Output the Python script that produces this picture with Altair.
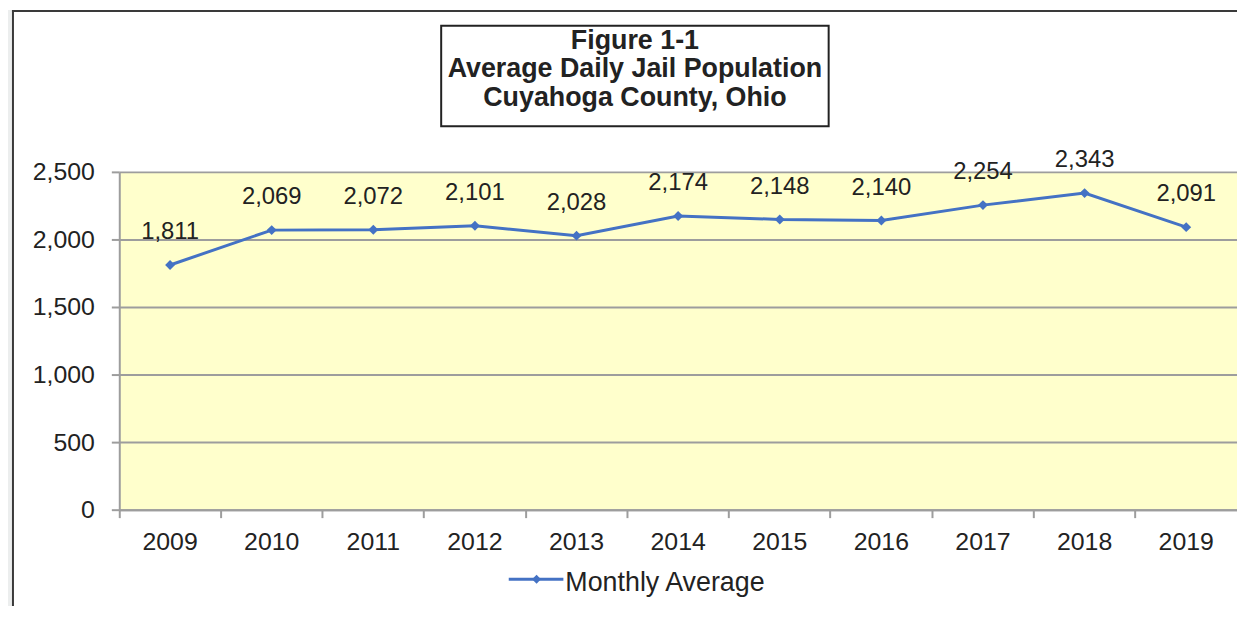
import altair as alt
import pandas as pd

# ---- data ----
years = ["2009", "2010", "2011", "2012", "2013", "2014", "2015", "2016", "2017", "2018", "2019"]
values = [1811, 2069, 2072, 2101, 2028, 2174, 2148, 2140, 2254, 2343, 2091]
y_ticks = [0, 500, 1000, 1500, 2000, 2500]
title_lines = ["Figure 1-1", "Average Daily Jail Population", "Cuyahoga County, Ohio"]
series_name = "Monthly Average"

# ---- style ----
FONT = "Liberation Sans"
BLUE = "#4472c4"
GRID = "#9d9d9d"
TEXT = "#222222"
PLOT_FILL = "#ffffcc"
OUTER = "#eceeee"
W, H = 1125, 340

df = pd.DataFrame({"year": years, "value": values})
dummy = pd.DataFrame({"d": [0]})

x = alt.X(
    "year:N", title=None, sort=years,
    scale=alt.Scale(type="band", paddingInner=0, paddingOuter=0),
    axis=alt.Axis(labelAngle=0, labelFont=FONT, labelFontSize=25, labelColor=TEXT,
                  labelPadding=12, tickSize=8, tickColor=GRID, tickWidth=2,
                  domainColor=GRID, domainWidth=2, bandPosition=0, grid=False),
)
y = alt.Y(
    "value:Q", title=None,
    scale=alt.Scale(domain=[0, 2500], nice=False, zero=True),
    axis=alt.Axis(values=y_ticks, format=",d", labelFont=FONT, labelFontSize=25,
                  labelColor=TEXT, labelPadding=17, tickSize=8, tickColor=GRID,
                  tickWidth=2, domainColor=GRID, domainWidth=2, grid=True,
                  gridColor=GRID, gridWidth=2),
)

base = alt.Chart(df).encode(x=x, y=y)
line = base.mark_line(color=BLUE, strokeWidth=3)
pts = base.mark_point(shape="diamond", filled=True, size=100, color=BLUE, opacity=1)
labels = base.mark_text(font=FONT, fontSize=24, color=TEXT, dy=-26,
                        baseline="alphabetic").encode(text=alt.Text("value:Q", format=",d"))

# ---- decorations (frame, title box, legend) ----
strip = alt.Chart(dummy).mark_rect(color=OUTER).encode(
    x=alt.value(-112), x2=alt.value(-108), y=alt.value(-163), y2=alt.value(500))
left_border = alt.Chart(dummy).mark_rule(color="#3a3a3a", strokeWidth=2).encode(
    x=alt.value(-107), y=alt.value(-163), y2=alt.value(500))
top_border = alt.Chart(dummy).mark_rule(color="#3a3a3a", strokeWidth=2).encode(
    x=alt.value(-108), x2=alt.value(W + 20), y=alt.value(-162))
title_box = alt.Chart(dummy).mark_rect(fill="white", stroke="#222222", strokeWidth=2).encode(
    x=alt.value(324), x2=alt.value(714), y=alt.value(-147), y2=alt.value(-46))
title_texts = [
    alt.Chart(dummy).mark_text(font=FONT, fontSize=27, fontWeight="bold", color=TEXT,
                               align="center", baseline="alphabetic").encode(
        x=alt.value(519), y=alt.value(-124 + 29 * i), text=alt.value(t))
    for i, t in enumerate(title_lines)
]
leg_line = alt.Chart(dummy).mark_rule(color=BLUE, strokeWidth=3).encode(
    x=alt.value(392), x2=alt.value(447), y=alt.value(410))
leg_pt = alt.Chart(dummy).mark_point(shape="diamond", filled=True, size=80,
                                     color=BLUE, opacity=1).encode(
    x=alt.value(420), y=alt.value(410))
leg_text = alt.Chart(dummy).mark_text(font=FONT, fontSize=27, color=TEXT, align="left",
                                      baseline="alphabetic").encode(
    x=alt.value(449), y=alt.value(422), text=alt.value(series_name))

chart = alt.layer(
    strip, left_border, top_border, title_box, *title_texts,
    line, pts, labels, leg_line, leg_pt, leg_text,
).properties(
    width=W, height=H,
    padding={"left": 112, "top": 163, "right": 0, "bottom": 95},
    autosize=alt.AutoSizeParams(type="none"),
    background="white",
).configure_view(fill=PLOT_FILL, strokeWidth=0)

chart.save("out.html", embed_options={"renderer": "svg", "actions": False})
